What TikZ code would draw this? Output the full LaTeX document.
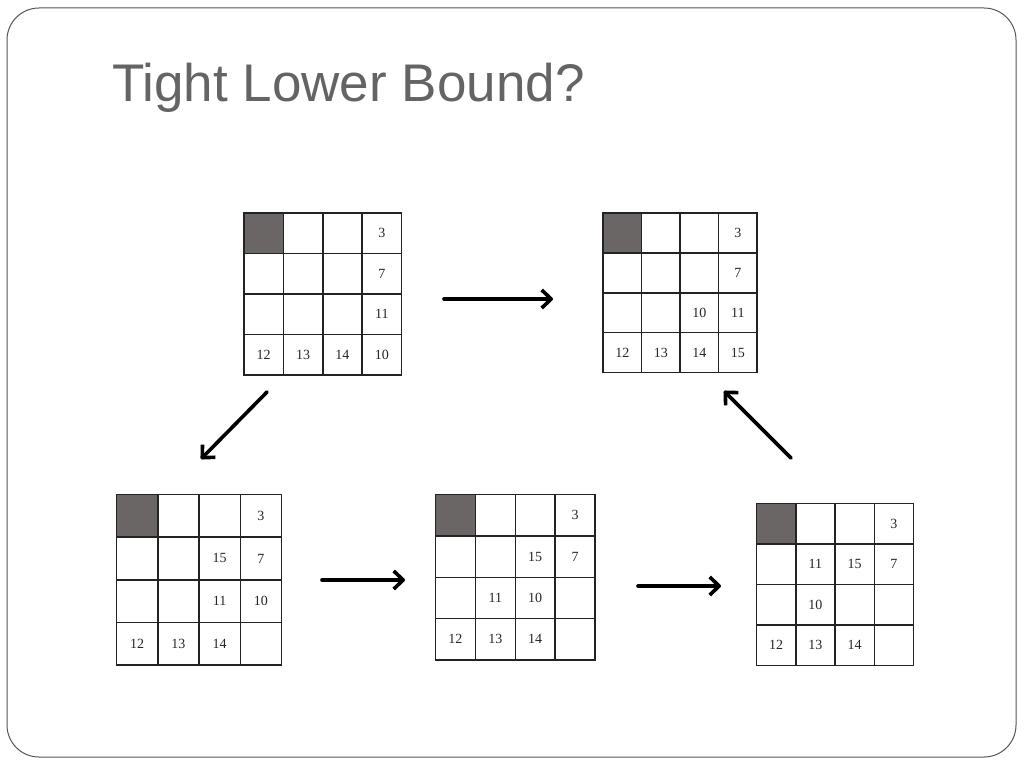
\documentclass[tikz,border=0pt]{standalone}
\usepackage{fontspec}
\setmainfont{Liberation Serif}
\newfontfamily\titlefont{Liberation Sans}
\usetikzlibrary{arrows.meta}
\definecolor{framegray}{RGB}{85,85,85}
\definecolor{titlegray}{RGB}{100,100,100}
\definecolor{cellgray}{RGB}{107,102,102}
\definecolor{linegray}{RGB}{35,35,35}
\tikzset{
  gridline/.style={draw=linegray, line width=1.5pt, line cap=rect},
  shadecell/.style={fill=cellgray},
  num/.style={inner sep=0pt, font=\fontsize{14}{14}\selectfont, text=black!85},
  movearrow/.style={line width=3.6pt, line cap=round, -{Straight Barb[length=9.5pt,width=18pt,line join=round]}},
  frame/.style={draw=framegray, line width=1pt, rounded corners=32pt},
}
\newcommand\puzzlegrid[6]{%
  \pgfmathsetmacro\cw{(#4-#2)/4}%
  \pgfmathsetmacro\ch{(#5-#3)/4}%
  \fill[shadecell] (#2,#3) rectangle ++(\cw,\ch);
  \foreach \i in {0,...,4} {
    \draw[gridline] (#2+\i*\cw,#3) -- (#2+\i*\cw,#5);
    \draw[gridline] (#2,#3+\i*\ch) -- (#4,#3+\i*\ch);
  }
  \foreach \r/\c/\t in {#6}
    \node[num] (#1-\r\c) at (#2+\c*\cw-0.5*\cw, #3+\r*\ch-0.5*\ch) {\t};
  \coordinate (#1) at ({(#2+#4)/2},{(#3+#5)/2});
}
\begin{document}
\begin{tikzpicture}[x=1pt,y=-1pt]
\useasboundingbox (0,0) rectangle (1024,768);
\fill[white] (0,0) rectangle (1024,768);
\draw[frame] (7,8) rectangle (1016,757);
\node[anchor=base west, inner sep=0pt, text=titlegray, font=\titlefont\fontsize{53}{56}\selectfont] (title) at (112,101) {Tight Lower Bound?};

\puzzlegrid{g1}{244}{213}{401.5}{375}{1/4/3, 2/4/7, 3/4/11, 4/1/12, 4/2/13, 4/3/14, 4/4/10}
\puzzlegrid{g2}{603}{213}{757}{372.5}{1/4/3, 2/4/7, 3/3/10, 3/4/11, 4/1/12, 4/2/13, 4/3/14, 4/4/15}
\puzzlegrid{g3}{116.5}{494.5}{281.5}{665}{1/4/3, 2/3/15, 2/4/7, 3/3/11, 3/4/10, 4/1/12, 4/2/13, 4/3/14}
\puzzlegrid{g4}{435.5}{494.5}{595}{660}{1/4/3, 2/3/15, 2/4/7, 3/2/11, 3/3/10, 4/1/12, 4/2/13, 4/3/14}
\puzzlegrid{g5}{756.5}{503.5}{913.5}{665.5}{1/4/3, 2/2/11, 2/3/15, 2/4/7, 3/2/10, 4/1/12, 4/2/13, 4/3/14}

\coordinate (a1s) at (444,299);  \coordinate (a1e) at (553,299);
\coordinate (a2s) at (267,392);  \coordinate (a2e) at (201,459);
\coordinate (a3s) at (322,580);  \coordinate (a3e) at (405,580);
\coordinate (a4s) at (638,586);  \coordinate (a4e) at (721,586);
\coordinate (a5s) at (791,458);  \coordinate (a5e) at (724,391);
\draw[movearrow] (a1s) -- (a1e);
\draw[movearrow] (a2s) -- (a2e);
\draw[movearrow] (a3s) -- (a3e);
\draw[movearrow] (a4s) -- (a4e);
\draw[movearrow] (a5s) -- (a5e);
\end{tikzpicture}
\end{document}
